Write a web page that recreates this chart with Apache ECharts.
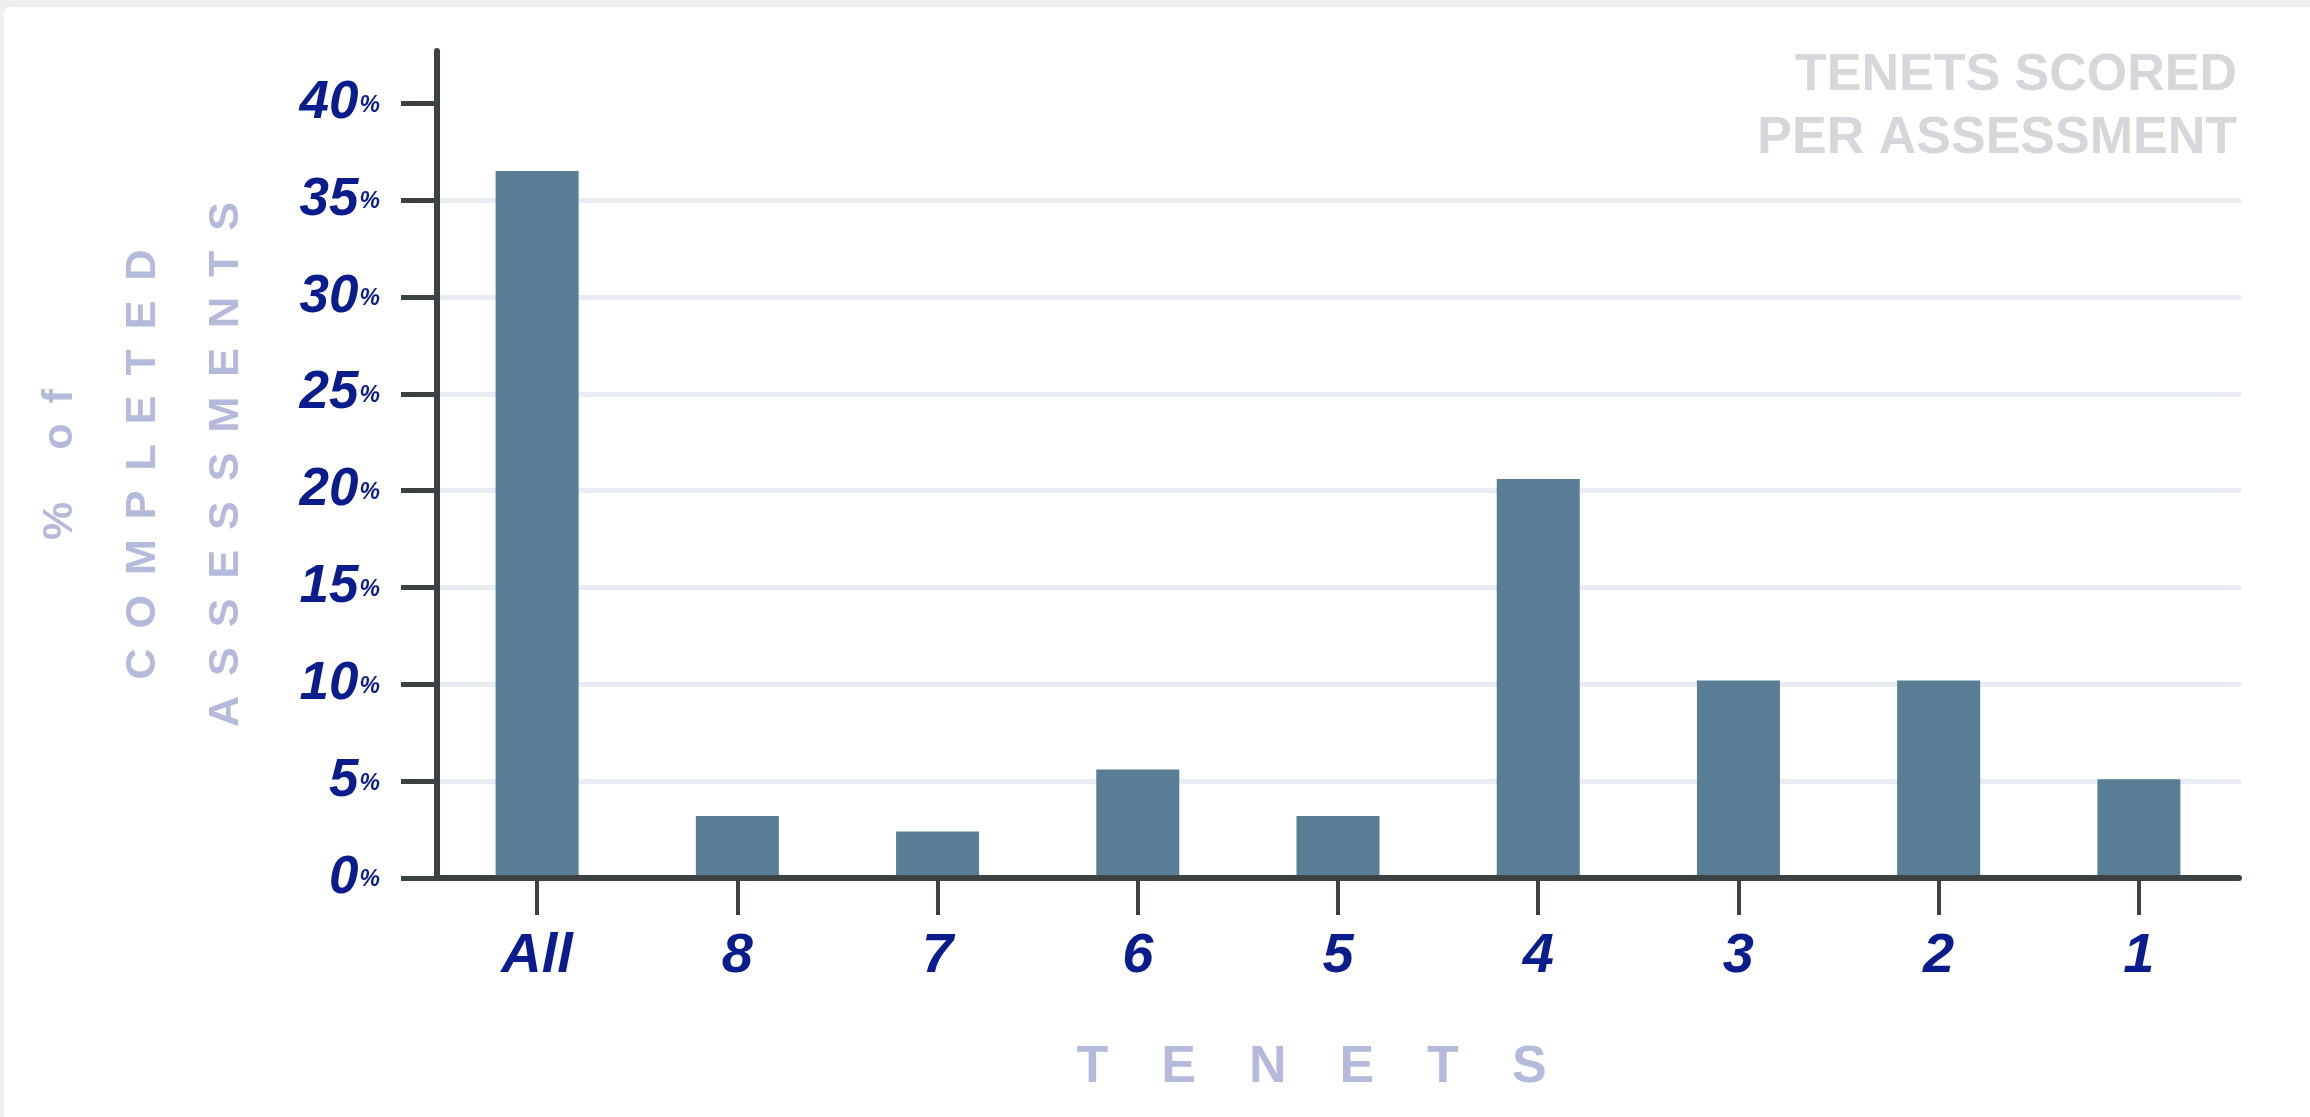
<!DOCTYPE html>
<html>
<head>
<meta charset="utf-8">
<script src="https://cdn.jsdelivr.net/npm/echarts@6/dist/echarts.min.js"></script>
<style>
  html, body { margin: 0; padding: 0; width: 2310px; height: 1117px; background: #eef0f0; overflow: hidden; }
  #card { position: absolute; left: 4px; top: 7px; right: 0; bottom: 0; background: #ffffff; border-top-left-radius: 6px; }
  #chart { position: absolute; left: 0; top: 0; width: 2310px; height: 1117px; }
</style>
</head>
<body>
<div id="card"></div>
<div id="chart"></div>
<script>
// Share of completed assessments by number of tenets scored
const categories = ['All', '8', '7', '6', '5', '4', '3', '2', '1'];
const shareValues = [36.5, 3.2, 2.4, 5.6, 3.2, 20.6, 10.2, 10.2, 5.1];
const yTickValues = [0, 5, 10, 15, 20, 25, 30, 35, 40];
const yNameLines = ['% of', 'COMPLETED', 'ASSESSMENTS'];
const xNameText = 'TENETS';
const titleLines = ['TENETS SCORED', 'PER ASSESSMENT'];

const FONT = "'Liberation Sans', Arial, sans-serif";
const NAVY = '#0b1d8c';
const AXIS = '#3c4141';
const NAME_COLOR = '#b4badb';

// Spread letters apart with per-letter rich tokens
function spacedLine(text, styleName) {
  return Array.from(text).map(function (ch) {
    return '{' + styleName + '|' + ch + '}';
  }).join('');
}

const yNameRichText = yNameLines.map(function (l) { return spacedLine(l, 'c'); }).join('\n');
const xNameRichText = spacedLine(xNameText, 'x');

const chart = echarts.init(document.getElementById('chart'), null, { renderer: 'canvas' });

chart.setOption({
  backgroundColor: 'transparent',
  animation: false,
  title: {
    text: titleLines.join('\n'),
    left: 2237,
    top: 44,
    padding: 0,
    textAlign: 'right',
    textStyle: {
      fontFamily: FONT,
      fontWeight: 'bold',
      fontSize: 52,
      lineHeight: 63,
      color: '#d6d7db'
    }
  },
  grid: {
    left: 437,
    right: 71,
    top: 51,
    bottom: 239
  },
  xAxis: {
    type: 'category',
    data: categories,
    z: 5,
    boundaryGap: true,
    axisLine: { show: true, lineStyle: { color: AXIS, width: 6, cap: 'round' } },
    axisTick: { show: true, alignWithLabel: true, length: 37, lineStyle: { color: AXIS, width: 4 } },
    axisLabel: {
      margin: 51,
      fontFamily: FONT,
      fontWeight: 'bold',
      fontStyle: 'italic',
      fontSize: 56,
      color: NAVY
    },
    splitLine: { show: false },
    name: xNameRichText,
    nameLocation: 'middle',
    nameGap: 164,
    nameTextStyle: {
      rich: {
        x: { fontFamily: FONT, fontWeight: 'bold', fontSize: 52, lineHeight: 52, color: NAME_COLOR, padding: [0, 53, 0, 0] }
      }
    }
  },
  yAxis: {
    type: 'value',
    min: 0,
    max: 42.7,
    interval: 5,
    axisLine: { show: true, lineStyle: { color: AXIS, width: 6, cap: 'round' } },
    axisTick: { show: true, length: 36, customValues: yTickValues, lineStyle: { color: AXIS, width: 5 } },
    axisLabel: {
      margin: 57,
      customValues: yTickValues,
      formatter: function (v) { return '{n|' + v + '}{p|%}'; },
      rich: {
        n: { fontFamily: FONT, fontWeight: 'bold', fontStyle: 'italic', fontSize: 53, color: NAVY, verticalAlign: 'middle' },
        p: { fontFamily: FONT, fontWeight: 'bold', fontStyle: 'italic', fontSize: 23, color: NAVY, verticalAlign: 'middle', padding: [4, 0, 0, 1] }
      }
    },
    splitLine: {
      show: true,
      showMinLine: false,
      showMaxLine: false,
      lineStyle: { color: '#eaecf3', width: 5, cap: 'round' }
    },
    name: yNameRichText,
    nameLocation: 'middle',
    nameRotate: 90,
    nameGap: 169,
    nameTextStyle: {
      rich: {
        c: { fontFamily: FONT, fontWeight: 'bold', fontSize: 43, lineHeight: 83, color: NAME_COLOR, padding: [0, 10, 0, 10] }
      }
    }
  },
  series: [{
    type: 'bar',
    data: shareValues,
    barWidth: 83,
    itemStyle: { color: '#597d94' },
    emphasis: { disabled: true }
  }]
});
</script>
</body>
</html>
